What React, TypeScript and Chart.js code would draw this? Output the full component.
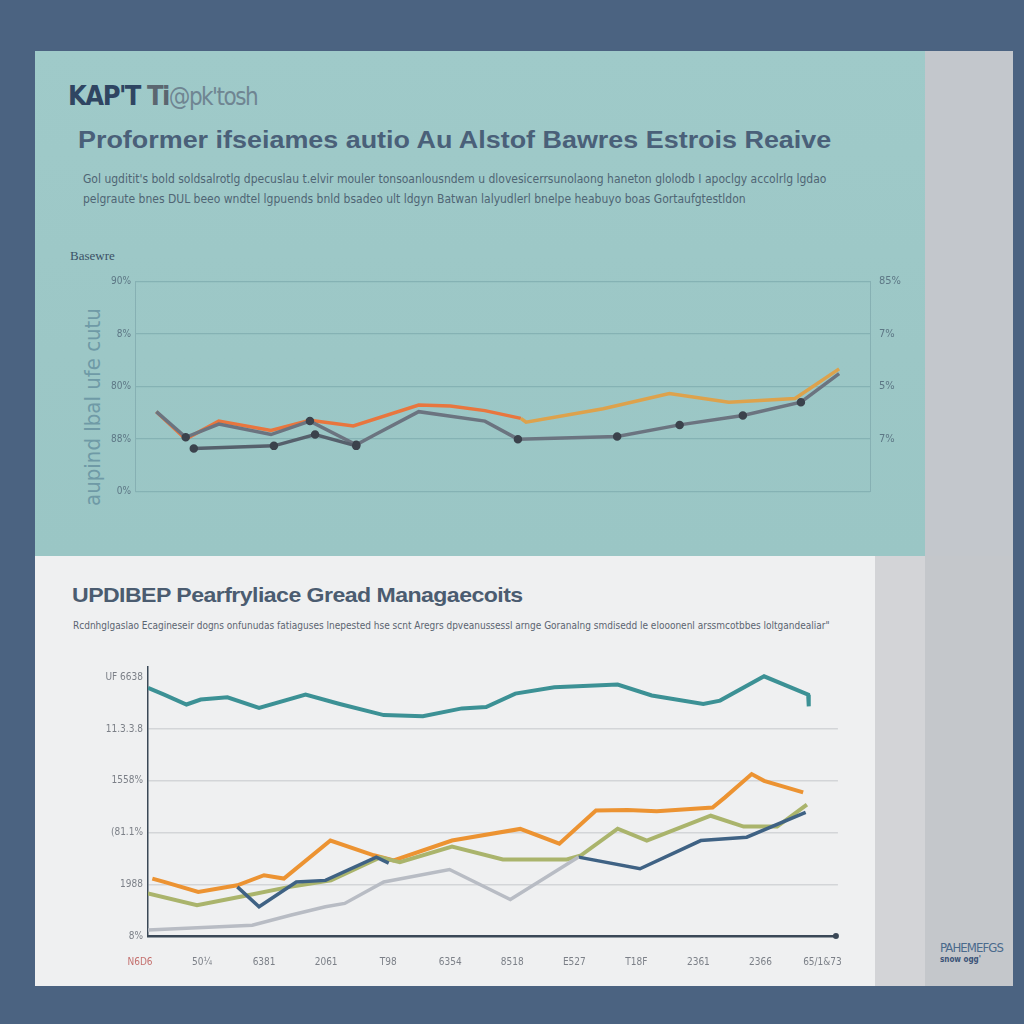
import React, { useEffect, useRef } from "react";
import { Chart, registerables } from "chart.js";

Chart.register(...registerables);

// ---------- Top chart data ----------
const topRedX = [2.9, 6.9, 11.4, 18.5, 23.8, 29.7, 38.6, 42.9, 47.6, 52.5];
const topRedY = [38.0, 24.9, 33.5, 29.0, 33.9, 31.2, 41.2, 40.7, 38.5, 34.8];
const topGoldX = [52.5, 53.2, 63.7, 72.7, 80.8, 89.8, 95.8];
const topGoldY = [34.8, 33.0, 39.4, 46.6, 42.5, 44.3, 58.4];
const topGrayX = [2.9, 6.9, 11.4, 18.5, 23.8, 30.1, 32.7, 38.6, 47.6, 52.1, 65.6, 74.1, 82.7, 90.6, 95.8];
const topGrayY = [38.0, 25.8, 32.1, 27.1, 33.5, 22.2, 27.1, 38.0, 33.5, 24.9, 26.2, 31.7, 36.2, 42.5, 56.1];
const topLowX = [8.0, 18.9, 24.5, 30.1];
const topLowY = [20.4, 21.7, 27.1, 21.7];
const topGrayMarked = [1, 4, 5, 9, 10, 11, 12, 13];
const topLeftTicks = ["0%", "88%", "80%", "8%", "90%"];
const topRightTicks = ["", "7%", "5%", "7%", "85%"];

// ---------- Bottom chart data ----------
const botTealX = [0.0, 0.26, 0.62, 0.85, 1.28, 1.79, 2.54, 3.09, 3.8, 4.43, 5.06, 5.45, 5.92, 6.55, 7.57, 8.12, 8.95, 9.22, 9.93, 10.64, 10.65];
const botTealY = [95.9, 93.3, 89.5, 91.4, 92.3, 88.2, 93.3, 89.7, 85.4, 85.0, 88.0, 88.5, 93.7, 96.2, 97.2, 93.0, 89.7, 91.0, 100.4, 93.3, 88.8];
const botOrangeX = [0.07, 0.26, 0.81, 1.44, 1.87, 2.19, 2.94, 3.64, 3.96, 4.9, 6.0, 6.63, 7.22, 7.73, 8.2, 9.1, 9.3, 9.73, 9.93, 10.56];
const botOrangeY = [22.2, 20.9, 17.0, 19.6, 23.5, 22.2, 36.9, 31.2, 29.2, 36.9, 41.4, 35.7, 48.5, 48.7, 48.2, 49.7, 53.6, 62.6, 60.0, 55.5];
const botOliveX = [0, 0.79, 1.53, 2.24, 2.95, 3.74, 4.06, 4.9, 5.72, 6.75, 6.98, 7.57, 8.04, 9.07, 9.6, 10.14, 10.62];
const botOliveY = [16.5, 11.9, 15.4, 18.8, 21.5, 30.4, 28.5, 34.6, 29.6, 29.6, 31.2, 41.5, 36.9, 46.5, 42.3, 42.3, 50.8];
const botBlueX = [1.44, 1.79, 2.39, 2.86, 3.68, 3.88, 5.0, 6.94, 7.93, 8.91, 9.65, 10.6];
const botBlueY = [19.0, 11.3, 20.9, 21.5, 30.5, 28.2, null, 30.5, 26.0, 36.9, 38.2, 47.8];
const botGrayX = [0, 1.68, 2.31, 2.86, 3.17, 3.8, 4.86, 5.84, 6.94];
const botGrayY = [2.3, 4.2, 8.1, 11.3, 12.6, 20.9, 25.7, 14.1, 30.5];
const botXTicks = ["N6D6", "50¼", "6381", "2061", "T98", "6354", "8518", "E527", "T18F", "2361", "2366", "65/1&73"];
const botYTicks = ["8%", "1988", "(81.1%", "1558%", "11.3.3.8", "UF 6638"];

const pts = (xs: number[], ys: (number | null)[]) => xs.map((x, i) => ({ x, y: ys[i] }));

const NARROW = "'Liberation Sans Narrow', 'DejaVu Sans Condensed', 'Liberation Sans', Arial, sans-serif";

function TopChart() {
  const ref = useRef<HTMLCanvasElement>(null);
  useEffect(() => {
    const line = (data: any, color: string, width: number, pr: any, pc: string) => ({
      data,
      borderColor: color,
      borderWidth: width,
      pointRadius: pr,
      pointBackgroundColor: pc,
      pointBorderColor: pc,
      tension: 0,
      spanGaps: false,
    });
    const chart = new Chart(ref.current!, {
      type: "line",
      data: {
        datasets: [
          line(pts(topLowX, topLowY), "#56606c", 3.5, 2.5, "#3b424c"),
          line(pts(topGrayX, topGrayY), "#6b7480", 3.5, (ctx: any) => (topGrayMarked.includes(ctx.dataIndex) ? 2.5 : 0), "#3b424c"),
          line(pts(topGoldX, topGoldY), "#dda24c", 3.5, 0, "#dda24c"),
          line(pts(topRedX, topRedY), "#e8763e", 3.5, 0, "#e8763e"),
        ],
      },
      options: {
        animation: false,
        responsive: false,
        devicePixelRatio: 1,
        layout: { padding: { top: 10, bottom: 10, left: 0, right: 0 } },
        plugins: { legend: { display: false }, tooltip: { enabled: false } },
        scales: {
          x: { type: "linear", min: 0, max: 100, display: false },
          y: {
            position: "left",
            min: 0,
            max: 100,
            afterFit: (s: any) => { s.width = 75; },
            afterBuildTicks: (s: any) => { s.ticks = [0, 25, 50, 75, 100].map((v) => ({ value: v })); },
            grid: { color: "#85b2b4", lineWidth: 1.2, drawTicks: false },
            border: { display: true, color: "#86b0b3", width: 1 },
            ticks: {
              padding: 4,
              color: "#5d7785",
              font: { family: NARROW, size: 10 },
              callback: (v: any) => topLeftTicks[Math.round(Number(v) / 25)],
            },
          },
          y2: {
            position: "right",
            min: 0,
            max: 100,
            afterFit: (s: any) => { s.width = 60; },
            afterBuildTicks: (s: any) => { s.ticks = [0, 25, 50, 75, 100].map((v) => ({ value: v })); },
            grid: { display: false, drawTicks: false },
            border: { display: true, color: "#86b0b3", width: 1 },
            ticks: {
              padding: 9,
              color: "#5d7785",
              font: { family: NARROW, size: 11 },
              callback: (v: any) => topRightTicks[Math.round(Number(v) / 25)],
            },
          },
        },
      },
    } as any);
    return () => chart.destroy();
  }, []);
  return <canvas ref={ref} width={870} height={241} style={{ position: "absolute", left: 60, top: 266 }} />;
}

function BottomChart() {
  const ref = useRef<HTMLCanvasElement>(null);
  useEffect(() => {
    const line = (data: any, color: string, width: number) => ({
      data,
      borderColor: color,
      borderWidth: width,
      pointRadius: 0,
      tension: 0,
      spanGaps: false,
    });
    const axisEnd = {
      id: "axisEnd",
      afterDraw(c: any) {
        const { ctx, chartArea } = c;
        ctx.save();
        ctx.fillStyle = "#3a4857";
        ctx.beginPath();
        ctx.arc(chartArea.right - 2, chartArea.bottom, 3, 0, Math.PI * 2);
        ctx.fill();
        ctx.restore();
      },
    };
    const chart = new Chart(ref.current!, {
      type: "line",
      data: {
        datasets: [
          line(pts(botGrayX, botGrayY), "#b8bcc4", 3.5),
          line(pts(botBlueX, botBlueY), "#3f6284", 3.5),
          line(pts(botOliveX, botOliveY), "#aab46c", 4),
          line(pts(botOrangeX, botOrangeY), "#ec9332", 4),
          line(pts(botTealX, botTealY), "#3c9195", 4),
        ],
      },
      plugins: [axisEnd],
      options: {
        animation: false,
        responsive: false,
        devicePixelRatio: 1,
        layout: { padding: { top: 10, right: 18, left: 0, bottom: 0 } },
        plugins: { legend: { display: false }, tooltip: { enabled: false } },
        scales: {
          x: {
            type: "linear",
            min: 0,
            max: 11.12,
            afterFit: (s: any) => { s.height = 40; },
            afterBuildTicks: (s: any) => { s.ticks = botXTicks.map((_, i) => ({ value: i })); },
            grid: { display: false, drawTicks: false },
            border: { display: true, color: "#3a4857", width: 2.5 },
            ticks: {
              padding: 20,
              labelOffset: -8,
              maxRotation: 0,
              autoSkip: false,
              color: (ctx: any) => (ctx.index === 0 ? "#c4706e" : "#7c8088"),
              font: { family: NARROW, size: 10 },
              callback: (v: any) => botXTicks[Math.round(Number(v))],
            },
          },
          y: {
            min: 0,
            max: 104,
            afterFit: (s: any) => { s.width = 58; },
            afterBuildTicks: (s: any) => { s.ticks = [0, 20, 40, 60, 80, 100].map((v) => ({ value: v })); },
            grid: {
              drawTicks: false,
              lineWidth: 1.5,
              color: (ctx: any) => (ctx.tick && (ctx.tick.value === 0 || ctx.tick.value === 100) ? "rgba(0,0,0,0)" : "#d3d5d8"),
            },
            border: { display: true, color: "#3a4857", width: 1.5 },
            ticks: {
              padding: 5,
              color: "#7c8088",
              font: { family: NARROW, size: 10 },
              callback: (v: any) => botYTicks[Math.round(Number(v) / 20)],
            },
          },
        },
      },
    } as any);
    return () => chart.destroy();
  }, []);
  return <canvas ref={ref} width={780} height={320} style={{ position: "absolute", left: 90, top: 656 }} />;
}

export default function App() {
  const abs = (s: React.CSSProperties): React.CSSProperties => ({ position: "absolute", ...s });
  return (
    <div style={{ position: "absolute", left: 0, top: 0, width: 1024, height: 1024, background: "#4b6381", overflow: "hidden", fontFamily: "'Liberation Sans', Arial, sans-serif" }}>
      {/* top panel */}
      <div style={abs({ left: 35, top: 51, width: 890, height: 505, background: "linear-gradient(180deg, #9fcac9 0%, #9cc7c6 60%, #9ac6c5 100%)" })} />
      <div style={abs({ left: 925, top: 51, width: 88, height: 505, background: "#c3c7cc" })} />
      {/* bottom panel */}
      <div style={abs({ left: 35, top: 556, width: 840, height: 430, background: "#eff0f1" })} />
      <div style={abs({ left: 875, top: 556, width: 50, height: 430, background: "#d3d4d7" })} />
      <div style={abs({ left: 925, top: 556, width: 88, height: 430, background: "#c4c7cb" })} />

      {/* top header */}
      <div style={abs({ left: 68, top: 80, fontFamily: NARROW, fontWeight: 700, fontSize: 27, color: "#2f4562", letterSpacing: -1.5, whiteSpace: "nowrap" })}>
        KAP'T<span style={{ color: "#5b6670" }}> Ti</span>
        <span style={{ color: "#6f8592", fontWeight: 400, fontSize: 24 }}>@pk'tosh</span>
      </div>
      <div style={abs({ left: 78, top: 127, fontWeight: 700, fontSize: 23, color: "#4a6079", whiteSpace: "nowrap", transformOrigin: "left top", transform: "scaleX(1.17)" })}>
        Proformer ifseiames autio Au Alstof Bawres Estrois Reaive
      </div>
      <div style={abs({ left: 83, top: 169, fontFamily: NARROW, fontSize: 12, color: "#4f6574", whiteSpace: "nowrap", lineHeight: "20px" })}>
        Gol ugditit's bold soldsalrotlg dpecuslau t.elvir mouler tonsoanlousndem u dlovesicerrsunolaong haneton glolodb I apoclgy accolrlg lgdao
        <br />
        pelgraute bnes DUL beeo wndtel lgpuends bnld bsadeo ult ldgyn Batwan lalyudlerl bnelpe heabuyo boas Gortaufgtestldon
      </div>
      <div style={abs({ left: 70, top: 248, fontFamily: "'Liberation Serif', serif", fontSize: 13, color: "#3b5166" })}>Basewre</div>
      <div style={abs({ left: 92, top: 407, transform: "translate(-50%, -50%) rotate(-90deg)", fontFamily: NARROW, fontSize: 22, color: "#6f9aa6", whiteSpace: "nowrap" })}>
        aupind lbal ufe cutu
      </div>

      <TopChart />

      {/* bottom header */}
      <div style={abs({ left: 72, top: 583, fontWeight: 700, fontSize: 21, color: "#4b5c70", whiteSpace: "nowrap", letterSpacing: -0.5, transformOrigin: "left top", transform: "scaleX(1.1)" })}>
        UPDIBEP Pearfryliace Gread Managaecoits
      </div>
      <div style={abs({ left: 73, top: 620, fontFamily: NARROW, fontSize: 10, color: "#5b6470", whiteSpace: "nowrap" })}>
        Rcdnhglgaslao Ecagineseir dogns onfunudas fatiaguses lnepested hse scnt Aregrs dpveanussessl arnge Goranalng smdisedd le elooonenl arssmcotbbes loltgandealiar"
      </div>

      <BottomChart />

      <div style={abs({ left: 940, top: 941, fontFamily: NARROW, fontSize: 13, color: "#4a6a8c", whiteSpace: "nowrap", lineHeight: "14px", letterSpacing: -0.9 })}>
        PAHEMEFGS
        <div style={{ fontSize: 8, fontWeight: 700, color: "#3c5478", lineHeight: "10px", letterSpacing: 0 }}>snow ogg'</div>
      </div>
    </div>
  );
}
